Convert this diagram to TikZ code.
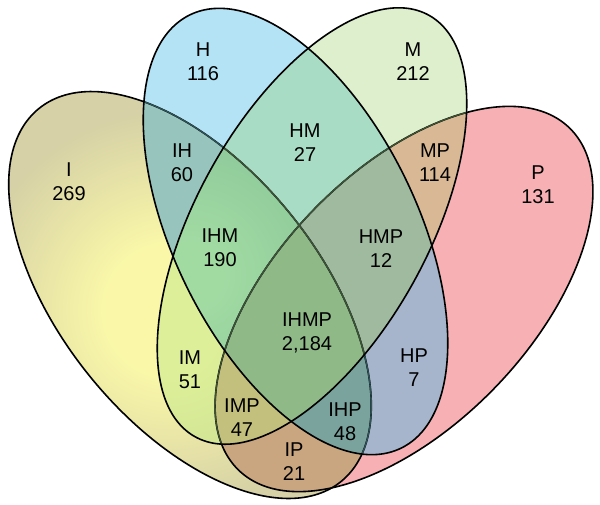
\documentclass[tikz,border=0pt]{standalone}
\usepackage{fontspec}
\setmainfont{Liberation Sans}
\definecolor{cIin}{HTML}{FAF8A8}
\definecolor{cIout}{HTML}{D6D1A6}
\definecolor{cIMin}{HTML}{DDEF98}
\definecolor{cIMout}{HTML}{CFE294}
\definecolor{cIHMin}{HTML}{A2DBA2}
\definecolor{cIHMout}{HTML}{90CB9C}
\pgfdeclareradialshading{Ishade}{\pgfpoint{0bp}{0bp}}{color(0bp)=(cIin); color(8bp)=(cIin); color(25bp)=(cIout); color(50bp)=(cIout)}
\pgfdeclareradialshading{IMshade}{\pgfpoint{0bp}{0bp}}{color(0bp)=(cIMin); color(8bp)=(cIMin); color(25bp)=(cIMout); color(50bp)=(cIMout)}
\pgfdeclareradialshading{IHMshade}{\pgfpoint{0bp}{0bp}}{color(0bp)=(cIHMin); color(6bp)=(cIHMin); color(25bp)=(cIHMout); color(50bp)=(cIHMout)}
\begin{document}
\begin{tikzpicture}[x=1pt,y=-1pt,
  lab/.style={align=center,inner sep=0pt,font=\fontsize{20}{24}\selectfont},
  outline/.style={draw=black,line width=1.6pt},
  covH/.style={draw=cCovH,line width=1.3pt},
  covM/.style={draw=cCovM,line width=1.3pt}]
\definecolor{cH}{HTML}{B3E3F5}
\definecolor{cM}{HTML}{DDEFCC}
\definecolor{cP}{HTML}{F7B1B5}
\definecolor{cHM}{HTML}{A8DCC4}
\definecolor{cMP}{HTML}{D9B995}
\definecolor{cIH}{HTML}{97C5BD}
\definecolor{cIP}{HTML}{C9A67F}
\definecolor{cHP}{HTML}{A6B5CC}
\definecolor{cIHP}{HTML}{7AA39D}
\definecolor{cIMP}{HTML}{C3BF7C}
\definecolor{cHMP}{HTML}{A0BAA0}
\definecolor{cIHMP}{HTML}{8FBA88}
\definecolor{cCovH}{HTML}{2E5458}
\definecolor{cCovM}{HTML}{3E5233}
\def\ellI{(190,295) circle [x radius=240, y radius=129, rotate=-51]}
\def\ellH{(295.5,231.5) circle [x radius=241, y radius=122, rotate=-64]}
\def\ellM{(312,226) circle [x radius=241, y radius=116, rotate=-119]}
\def\ellP{(404,299) circle [x radius=238, y radius=127, rotate=-134]}
\useasboundingbox (0,0) rectangle (600,504);
\fill[white] (0,0) rectangle (600,504);
% single sets
\fill[cIout] \ellI;
\begin{scope}
  \clip \ellI;
  \shade[shading=Ishade] (170,310) circle (200);
\end{scope}
\fill[cH] \ellH;
\fill[cM] \ellM;
\fill[cP] \ellP;
% pairs
\begin{scope}
  \clip \ellI;
  \fill[cIH] \ellH;
  \begin{scope}
    \clip \ellM;
    \shade[shading=IMshade] (170,330) circle (150);
  \end{scope}
  \fill[cIP] \ellP;
\end{scope}
\begin{scope}
  \clip \ellH;
  \fill[cHM] \ellM;
  \fill[cHP] \ellP;
\end{scope}
\begin{scope}
  \clip \ellM;
  \fill[cMP] \ellP;
\end{scope}
% triples
\begin{scope}
  \clip \ellI; \clip \ellH;
  \begin{scope}
    \clip \ellM;
    \shade[shading=IHMshade] (190,275) circle (130);
  \end{scope}
  \fill[cIHP] \ellP;
\end{scope}
\begin{scope}
  \clip \ellI; \clip \ellM;
  \fill[cIMP] \ellP;
\end{scope}
\begin{scope}
  \clip \ellH; \clip \ellM;
  \fill[cHMP] \ellP;
\end{scope}
% all four
\begin{scope}
  \clip \ellI; \clip \ellH; \clip \ellM;
  \fill[cIHMP] \ellP;
\end{scope}
% outlines
\draw[outline] \ellI;
\draw[outline] \ellP;
\begin{scope}
  \clip \ellH;
  \draw[covH] \ellI;
  \draw[covH] \ellP;
\end{scope}
\begin{scope}
  \clip \ellM;
  \draw[covM] \ellI;
  \draw[covM] \ellP;
\end{scope}
\draw[outline] \ellH;
\draw[outline] \ellM;
% labels
\node[lab] (nI) at (69,182) {I\\269};
\node[lab] (nH) at (203,62) {H\\116};
\node[lab] (nM) at (413,62) {M\\212};
\node[lab] (nP) at (538,185) {P\\131};
\node[lab] (nIH) at (182,163) {IH\\60};
\node[lab] (nHM) at (305,143) {HM\\27};
\node[lab] (nMP) at (435,163) {MP\\114};
\node[lab] (nIHM) at (220,248) {IHM\\190};
\node[lab] (nHMP) at (381,249) {HMP\\12};
\node[lab] (nIHMP) at (307,333) {IHMP\\2,184};
\node[lab] (nIM) at (190,370) {IM\\51};
\node[lab] (nHP) at (414,368) {HP\\7};
\node[lab] (nIMP) at (242,418) {IMP\\47};
\node[lab] (nIHP) at (345,422) {IHP\\48};
\node[lab] (nIP) at (294,462) {IP\\21};
\end{tikzpicture}
\end{document}
